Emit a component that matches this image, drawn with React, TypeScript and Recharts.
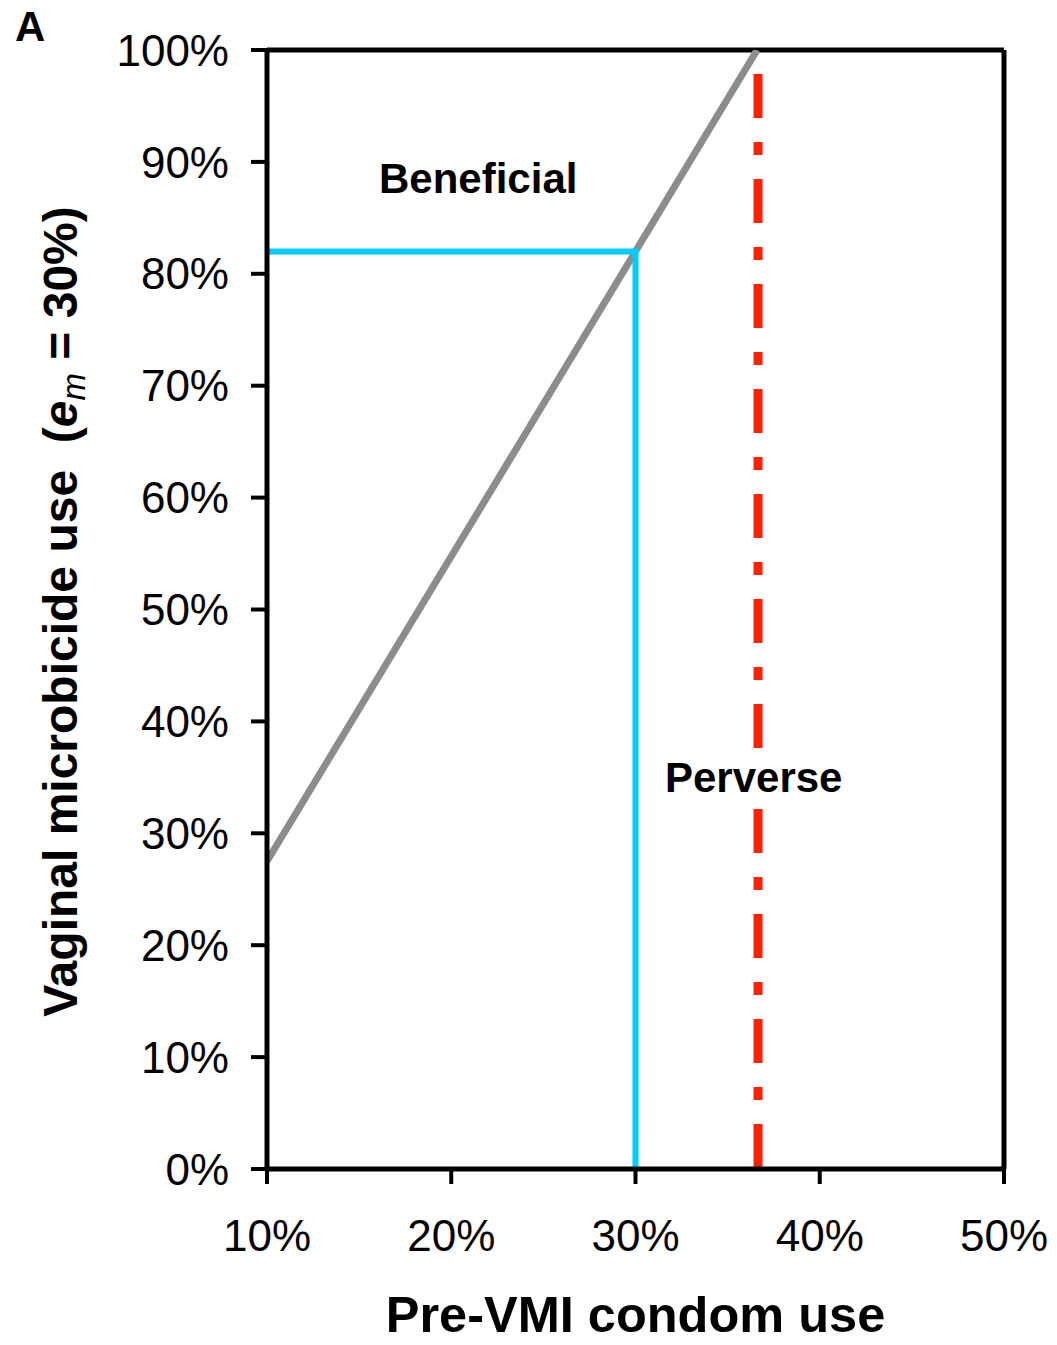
import { ComposedChart, Line, XAxis, YAxis, ReferenceLine, ReferenceDot } from 'recharts';

const FONT = '"Liberation Sans", Arial, sans-serif';

// x: pre-VMI condom use (%), y: vaginal microbicide use (%)
const thresholdCurve = [
  { x: 10, y: 27.5 },
  { x: 30, y: 82 },
  { x: 36.6, y: 100 },
];

const currentUse = [
  { x: 10, y: 82 },
  { x: 30, y: 82 },
  { x: 30, y: 0 },
];

const perverseLimit = [
  { x: 36.65, y: 100 },
  { x: 36.65, y: 0 },
];

const xTicks = [10, 20, 30, 40, 50];
const yTicks = [0, 10, 20, 30, 40, 50, 60, 70, 80, 90, 100];

const regionLabels = [
  { text: 'Beneficial', x: 16.08, y: 87.2, boxWidth: 205 },
  { text: 'Perverse', x: 31.6, y: 33.7, boxWidth: 182 },
];

const pct = (v: number) => `${v}%`;

// region name on a white box so the dashed limit line passes behind it
function RegionText({ viewBox, text, boxWidth }: any) {
  if (!viewBox) return null;
  return (
    <g>
      <rect x={viewBox.x - 2} y={viewBox.y - 38} width={boxWidth} height={50} fill="#fff" />
      <text x={viewBox.x} y={viewBox.y} fontFamily={FONT} fontWeight="bold" fontSize={42} fill="#000">
        {text}
      </text>
    </g>
  );
}

function XTitle({ viewBox }: any) {
  const { x, y, width } = viewBox;
  return (
    <text x={x + width / 2} y={y + 163} textAnchor="middle" fontFamily={FONT} fontWeight="bold" fontSize={50.5} fill="#000">
      Pre-VMI condom use
    </text>
  );
}

function YTitle({ viewBox }: any) {
  const { y, height } = viewBox;
  const cx = 77;
  const cy = y + height / 2 + 2;
  return (
    <text
      x={cx}
      y={cy}
      transform={`rotate(-90, ${cx}, ${cy})`}
      textAnchor="middle"
      fontFamily={FONT}
      fontWeight="bold"
      fontSize={48}
      fill="#000"
      style={{ whiteSpace: 'pre' }}
    >
      <tspan>{'Vaginal microbicide use  ('}</tspan>
      <tspan fontStyle="italic">e</tspan>
      <tspan fontStyle="italic" fontWeight="normal" fontSize={33} dy={8}>m</tspan>
      <tspan dy={-8}>{' = 30%)'}</tspan>
    </text>
  );
}

export default function App() {
  return (
    <div style={{ position: 'relative', width: 1057, height: 1345, background: '#fff' }}>
      <style>{'body{margin:0}'}</style>
      <div
        style={{
          position: 'absolute',
          left: 15,
          top: 2,
          fontFamily: FONT,
          fontWeight: 'bold',
          fontSize: 42,
          lineHeight: '50px',
        }}
      >
        A
      </div>
      <ComposedChart width={1057} height={1345} margin={{ top: 50, right: 53, bottom: 56, left: 0 }}>
        <XAxis
          type="number"
          dataKey="x"
          domain={[10, 50]}
          ticks={xTicks}
          tickFormatter={pct}
          allowDataOverflow
          height={120}
          axisLine={{ stroke: '#000', strokeWidth: 5 }}
          tickLine={{ stroke: '#000', strokeWidth: 4 }}
          tickSize={15}
          tickMargin={36}
          tick={{ fill: '#000', fontSize: 44, fontFamily: FONT }}
          label={<XTitle />}
        />
        <YAxis
          type="number"
          dataKey="y"
          domain={[0, 100]}
          ticks={yTicks}
          tickFormatter={pct}
          allowDataOverflow
          width={267}
          axisLine={{ stroke: '#000', strokeWidth: 5 }}
          tickLine={{ stroke: '#000', strokeWidth: 4 }}
          tickSize={16}
          tickMargin={22}
          tick={{ fill: '#000', fontSize: 44, fontFamily: FONT }}
          label={<YTitle />}
        />
        <ReferenceLine y={100} stroke="#000" strokeWidth={5} />
        <ReferenceLine x={50} stroke="#000" strokeWidth={5} />

        <Line data={thresholdCurve} dataKey="y" type="linear" stroke="#8c8c8c" strokeWidth={7} dot={false} isAnimationActive={false} />
        <Line data={currentUse} dataKey="y" type="linear" stroke="#00ccff" strokeWidth={6} dot={false} isAnimationActive={false} />
        <Line
          data={perverseLimit}
          dataKey="y"
          type="linear"
          stroke="#ff2200"
          strokeWidth={9}
          strokeDasharray="44 24 13 24"
          strokeDashoffset={81}
          dot={false}
          isAnimationActive={false}
        />

        {regionLabels.map((l) => (
          <ReferenceDot
            key={l.text}
            x={l.x}
            y={l.y}
            r={0}
            fill="none"
            stroke="none"
            label={<RegionText text={l.text} boxWidth={l.boxWidth} />}
          />
        ))}
      </ComposedChart>
    </div>
  );
}
